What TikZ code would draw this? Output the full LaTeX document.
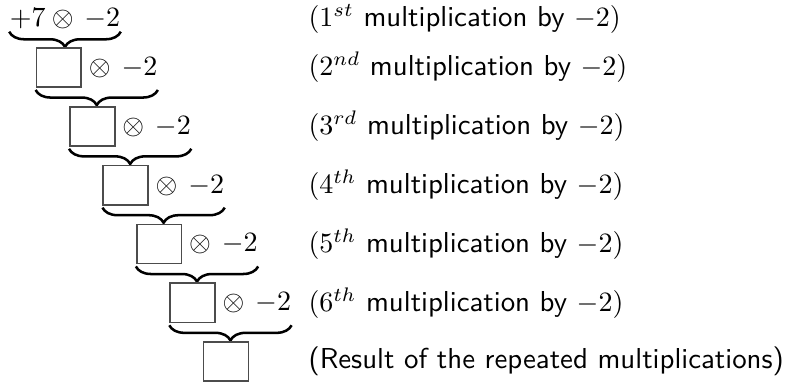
\documentclass[tikz,border=0pt]{standalone}
\usepackage{amsmath}
\usetikzlibrary{positioning,decorations.pathreplacing}

\begin{document}
\begin{tikzpicture}[x=0.357pt,y=-0.357pt,
 slot/.style={draw=black!70,line width=0.6pt,minimum width=16pt,
 minimum height=14pt,inner sep=0pt},
 fac/.style={inner sep=0pt},
 brc/.style={decorate,decoration={brace,mirror,amplitude=5.4pt,raise=0.7pt},
 line width=0.9pt},
 lbl/.style={anchor=west,inner sep=0pt,
 font=\sffamily\fontsize{10.3pt}{12pt}\selectfont}]
\useasboundingbox (0,0) rectangle (789,385);
\coordinate (lx) at (308,0);
% first product
\node[fac] (e1) at (65,19) {$+7\otimes\,-2$};
\draw[brc] (e1.south west) -- (e1.south east) coordinate[midway] (t1);
% repeated products
\node[slot,below=6.2pt of t1,xshift=-2.2pt] (b2) {};
\node[fac,right=0pt of b2] (m2) {${}\otimes\,-2$};
\draw[brc] (b2.south west) -- (b2.south -| m2.east) coordinate[midway] (t2);
\node[slot,below=6.4pt of t2,xshift=-1.6pt] (b3) {};
\node[fac,right=0pt of b3] (m3) {${}\otimes\,-2$};
\draw[brc] (b3.south west) -- (b3.south -| m3.east) coordinate[midway] (t3);
\node[slot,below=6.4pt of t3,xshift=-1.6pt] (b4) {};
\node[fac,right=0pt of b4] (m4) {${}\otimes\,-2$};
\draw[brc] (b4.south west) -- (b4.south -| m4.east) coordinate[midway] (t4);
\node[slot,below=6.4pt of t4,xshift=-1.6pt] (b5) {};
\node[fac,right=0pt of b5] (m5) {${}\otimes\,-2$};
\draw[brc] (b5.south west) -- (b5.south -| m5.east) coordinate[midway] (t5);
\node[slot,below=6.4pt of t5,xshift=-1.6pt] (b6) {};
\node[fac,right=0pt of b6] (m6) {${}\otimes\,-2$};
\draw[brc] (b6.south west) -- (b6.south -| m6.east) coordinate[midway] (t6);
\node[slot,below=6.4pt of t6,xshift=-1.6pt] (b7) {};
% labels
\node[lbl] (l1) at (lx |- e1) {$(1^{st}$ multiplication by $-2)$};
\node[lbl] (l2) at (lx |- b2) {$(2^{nd}$ multiplication by $-2)$};
\node[lbl] (l3) at (lx |- b3) {$(3^{rd}$ multiplication by $-2)$};
\node[lbl] (l4) at (lx |- b4) {$(4^{th}$ multiplication by $-2)$};
\node[lbl] (l5) at (lx |- b5) {$(5^{th}$ multiplication by $-2)$};
\node[lbl] (l6) at (lx |- b6) {$(6^{th}$ multiplication by $-2)$};
\node[lbl] (l7) at (lx |- b7) {(Result of the repeated multiplications)};
\end{tikzpicture}
\end{document}
